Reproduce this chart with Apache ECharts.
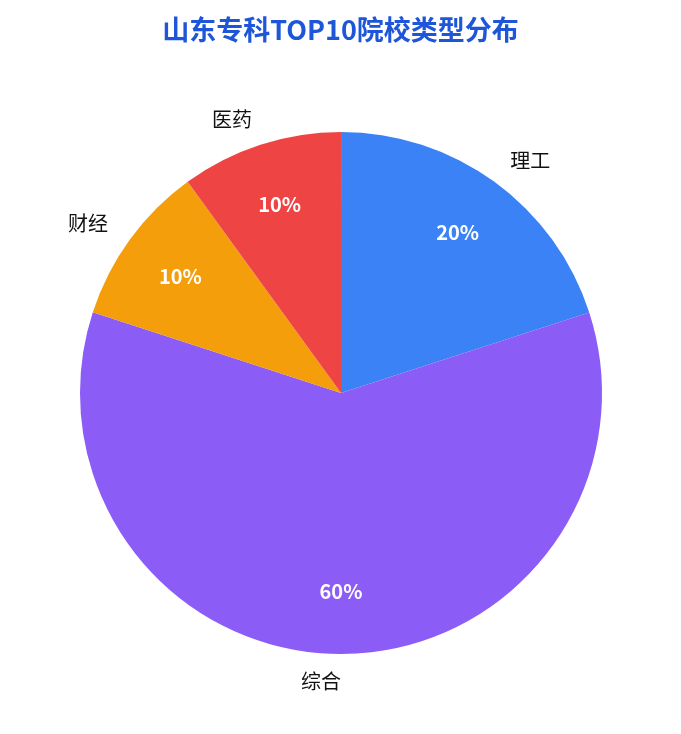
<!DOCTYPE html>
<html>
<head>
<meta charset="utf-8">
<script src="https://cdn.jsdelivr.net/npm/echarts@6/dist/echarts.min.js"></script>
<style>
  html, body { margin: 0; padding: 0; background: #fff; }
  #chart { width: 681px; height: 734px; }
</style>
</head>
<body>
<div id="chart"></div>
<script>
// 数据
const categories = ['理工', '综合', '财经', '医药'];
const values = [2, 6, 1, 1];
const colors = ['#3b82f6', '#8b5cf6', '#f59e0b', '#ef4444'];

const chart = echarts.init(document.getElementById('chart'));

const pieData = categories.map((name, i) => ({
  name: name,
  value: values[i],
  itemStyle: { color: colors[i] }
}));

const option = {
  title: {
    text: '山东专科TOP10院校类型分布',
    left: 'center',
    top: 11,
    textStyle: {
      color: '#1e56d9',
      fontSize: 27,
      fontWeight: 'bold',
      fontFamily: 'Noto Sans CJK SC'
    }
  },
  series: [
    // 外圈名称
    {
      type: 'pie',
      radius: 261,
      center: [341, 393],
      startAngle: 89.99, // 让底部“综合”标签靠左对齐
      clockwise: true,
      silent: true,
      data: pieData,
      label: {
        show: true,
        position: 'outside',
        formatter: '{b}',
        fontSize: 20,
        color: '#111',
        fontFamily: 'Noto Sans CJK SC',
        distanceToLabelLine: 0
      },
      labelLine: { show: false, length: 27, length2: 0 }
    },
    // 内部百分比
    {
      type: 'pie',
      radius: [130, 261],
      center: [341, 393],
      startAngle: 90,
      clockwise: true,
      silent: true,
      data: pieData.map(d => ({ name: d.name, value: d.value })),
      itemStyle: { color: 'rgba(0,0,0,0)' },
      label: {
        show: true,
        position: 'inside',
        formatter: '{d}%',
        fontSize: 20,
        fontWeight: 'bold',
        color: '#fff',
        fontFamily: 'Noto Sans CJK SC'
      },
      labelLine: { show: false }
    }
  ]
};

chart.setOption(option);
</script>
</body>
</html>
